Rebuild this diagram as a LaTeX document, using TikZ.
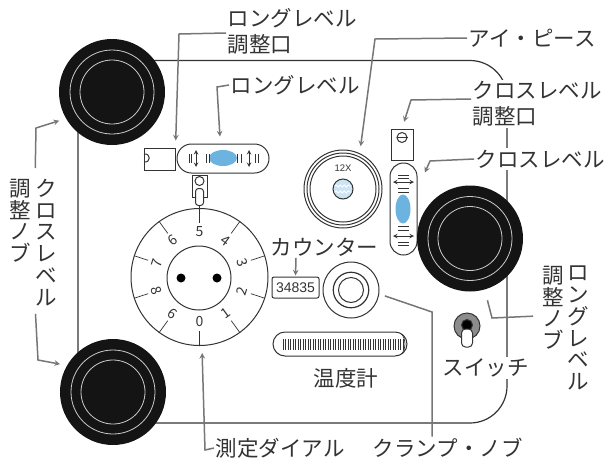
\documentclass[tikz,border=0pt]{standalone}
\usepackage{fontspec}
\setmainfont{Noto Sans CJK JP}
\newfontfamily\numfont{Liberation Sans}
\usetikzlibrary{arrows}
\usetikzlibrary{shapes}
\usetikzlibrary{decorations.pathmorphing}
\definecolor{levelblue}{HTML}{6DB3DF}
\definecolor{leadergray}{HTML}{767676}
\definecolor{inkgray}{HTML}{333333}

\begin{document}
\begin{tikzpicture}[x=1pt,y=-1pt]
   \tikzset{part/.style={draw=inkgray,line width=1pt,inner sep=0pt}}
   \tikzset{round/.style={part,circle,minimum size=#1}}
   \tikzset{knob/.style={circle,fill=black!92,minimum size=106pt,inner sep=0pt}}
   \tikzset{knobring/.style={draw=black!20,line width=0.8pt}}
   \tikzset{label/.style={text=inkgray,fill=white,inner sep=1.5pt,align=left,font=\fontsize{21.5}{26}\selectfont}}
   \tikzset{column/.style={text=inkgray,inner sep=0pt,align=center,font=\fontsize{21.5}{21.7}\selectfont}}
   \tikzset{leader/.style={draw=leadergray,line width=1.5pt}}
   \tikzset{pointer/.style={leader,-stealth,shorten >=7pt}}
   \tikzset{dialnum/.style={text=inkgray,inner sep=0pt,font=\fontsize{14}{14}\selectfont}}
   \useasboundingbox (0,0) rectangle (604,461);
   \draw[draw=inkgray,line width=1.2pt,rounded corners=37pt] (78,60.5) rectangle (507,423);

   \node[part,rectangle,minimum width=31pt,minimum height=22pt] (portLong) at (159.5,159) {};
   \draw[part] (144,154) .. controls (151,153) and (151,163) .. (144,162);
   \node[part,rectangle,rounded corners=14.5pt,minimum width=92pt,minimum height=29pt] (ovalLong) at (223,158.5) {};
   \node[fill=levelblue,ellipse,minimum width=28pt,minimum height=16pt,inner sep=0pt] (bubbleLong) at (223,158) {};
   \draw[part,stealth-stealth] (196,150) -- (196,167);
   \draw[part,stealth-stealth] (249,150) -- (249,167);
   \foreach \tx in {189,191,206,209,237,241,255,258}
      \draw[part,line width=0.7pt] (\tx,154) -- (\tx,163);

   \node[part,rectangle,minimum width=15pt,minimum height=22pt] (plunger) at (199.5,186) {};
   \node[round=9pt] (plungerEye) at (199.5,181) {};
   \node[part,rectangle,rounded corners=3pt,fill=white,minimum width=8pt,minimum height=17pt] (plungerTab) at (199.5,197) {};

   \node[round=137pt] (dial) at (199.5,277) {};
   \node[round=64pt] (dialHub) at (199,278) {};
   \fill[black] (181,278) circle[radius=4.5];
   \fill[black] (217,278) circle[radius=4.5];
   \foreach \ang/\num/\rot in {90/5/0,54/4/-36,18/3/-72,-18/2/72,-54/1/36,-90/0/0,-126/6/-36,-162/8/-72,162/7/72,126/6/36}{
      \draw[part,line width=0.7pt] ({199.5+69*cos(\ang)},{277-69*sin(\ang)}) -- ({199.5+54*cos(\ang)},{277-54*sin(\ang)});
      \node[dialnum,rotate=\rot] at ({199.5+45*cos(\ang)},{277-45*sin(\ang)}) {\num};
   }
   \draw[part] (199.5,205) -- (199.5,223);

   \node[round=78pt] (eye) at (343,189) {};
   \node[round=72pt] (eyeMid) at (343,189) {};
   \node[round=66pt] (eyeIn) at (343,189) {};
   \node[text=inkgray,inner sep=0pt,font=\numfont\fontsize{9.5}{10}\selectfont] (eyePower) at (343,168) {12X};
   \node[round=20pt,fill=levelblue!35] (eyeLens) at (343,189) {};
   \foreach \wy in {186,192}
      \draw[white,line width=0.8pt,decorate,decoration={snake,amplitude=1pt,segment length=4pt}] (335,\wy) -- (351,\wy);

   \node[part,rectangle,minimum width=22pt,minimum height=31pt] (portCross) at (402,144.5) {};
   \node[round=10pt] (portCrossEye) at (402,137.5) {};
   \draw[part] (portCrossEye.west) -- (portCrossEye.east);
   \node[part,rectangle,rounded corners=13.5pt,minimum width=27pt,minimum height=92pt] (ovalCross) at (403.5,209) {};
   \node[fill=levelblue,ellipse,minimum width=15pt,minimum height=29pt,inner sep=0pt] (bubbleCross) at (403,209) {};
   \draw[part,stealth-stealth] (393,182) -- (414,182);
   \draw[part,stealth-stealth] (393,236) -- (414,236);
   \foreach \ty in {175,178,188,192,226,230,242,245}
      \draw[part,line width=0.7pt] (398,\ty) -- (409,\ty);

   \foreach \nm/\cx/\cy in {knobA/112/92,knobB/470/238.5,knobC/113/392}{
      \node[knob] (\nm) at (\cx,\cy) {};
      \draw[knobring] (\nm) circle[radius=42];
      \draw[knobring] (\nm) circle[radius=32];
   }

   \node[part,rectangle,rounded corners=2pt,minimum width=47pt,minimum height=21pt,text=inkgray,font=\numfont\fontsize{14}{14}\selectfont] (counter) at (295.5,287.5) {34835};
   \node[round=56pt] (clamp) at (351,290) {};
   \node[round=35.5pt,line width=1.2pt] (clampMid) at (351,290) {};
   \node[round=25pt] (clampIn) at (351,290) {};

   \node[part,rectangle,rounded corners=12pt,minimum width=134pt,minimum height=24pt] (thermo) at (340,344) {};
   \foreach \tx in {283,285.5,...,403}
      \draw[part,line width=0.7pt] (\tx,339) -- (\tx,350);
   \draw[part,line width=0.7pt] (402,334) .. controls (406,340) and (406,348) .. (402,354);

   \node[round=26pt,fill=black!45] (switchRim) at (467,326) {};
   \node[round=11pt,fill=black] (switchEye) at (467,325) {};
   \node[part,rectangle,rounded corners=4pt,fill=white,minimum width=11pt,minimum height=18pt] (switchTab) at (467,338) {};

   \node[label,anchor=west] (lblLongPort) at (226,31) {ロングレベル\\調整口};
   \node[label,anchor=west] (lblLong) at (229,85) {ロングレベル};
   \node[label,anchor=west] (lblEye) at (467,38) {アイ・ピース};
   \node[label,anchor=west] (lblCrossPort) at (471,104) {クロスレベル\\調整口};
   \node[label,anchor=west] (lblCross) at (474,159) {クロスレベル};
   \node[label,anchor=west] (lblCounter) at (269,247) {カウンター};
   \node[label,anchor=west] (lblSwitch) at (441,368) {スイッチ};
   \node[label,anchor=west] (lblThermo) at (312,378) {温度計};
   \node[label,anchor=west] (lblDial) at (214,448) {測定ダイアル};
   \node[label,anchor=west] (lblClamp) at (371,448) {クランプ・ノブ};
   \node[column,anchor=north] (lblCrossKnob) at (46,179) {ク\\ロ\\ス\\レ\\ベ\\ル};
   \node[column,anchor=north] (lblCrossAdj) at (20,179) {調\\整\\ノ\\ブ};
   \node[column,anchor=north] (lblLongKnob) at (578,266) {ロ\\ン\\グ\\レ\\ベ\\ル};
   \node[column,anchor=north] (lblLongAdj) at (553,266) {調\\整\\ノ\\ブ};

   \draw[pointer] ([yshift=-2pt]lblLongPort.west) -- (179,34) -- (portLong.north east);
   \draw[pointer] (lblLong.west) -- (217,87) -- (ovalLong.100);
   \draw[pointer] (lblEye.west) -- (375,39) -- (eye.65);
   \draw[pointer] ([yshift=5pt]lblCrossPort.west) -- (411,100) -- (portCross.north);
   \draw[pointer,shorten >=18pt] (lblCross.west) -- (430,161) -- (ovalCross.55);
   \draw[pointer,shorten >=1pt] ([xshift=27pt]lblCounter.south west) -- (counter.north);
   \draw[pointer] (lblDial.west) -- (205,450) -- (dial.-88);
   \draw[leader,shorten >=6pt] ([xshift=-15.5pt]lblClamp.north) -- (432,312) -- (clamp.-8);
   \draw[leader,shorten >=11pt,shorten <=9pt] ([yshift=-8pt]lblLongAdj.west) -- (492,318) -- (knobB.-74);
   \draw[pointer,shorten <=11pt] (lblCrossKnob.north west) -- (36,128) -- (knobA.210);
   \draw[pointer,shorten <=8pt] (lblCrossKnob.south west) -- (38,360) -- (knobC.150);
\end{tikzpicture}
\end{document}
